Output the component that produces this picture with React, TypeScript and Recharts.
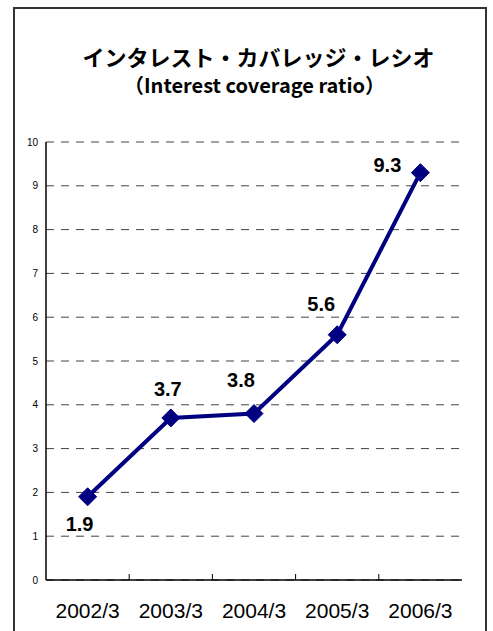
import { CartesianGrid, Line, LineChart, XAxis, YAxis } from 'recharts';

const years = ['2002/3', '2003/3', '2004/3', '2005/3', '2006/3'];
const coverageRatio = [1.9, 3.7, 3.8, 5.6, 9.3];
const yTicks = [0, 1, 2, 3, 4, 5, 6, 7, 8, 9, 10];

const chartData = years.map((year, i) => ({ year, ratio: coverageRatio[i] }));

// where each value label sits relative to its marker
const labelOffsets = [
  [-8, 27],
  [-3, -29],
  [-13, -34],
  [-16, -31],
  [-33, -8],
];

const WIDTH = 493;
const HEIGHT = 631;
const PLOT_LEFT = 46;
const PLOT_RIGHT = 462;
const HALF_BAND = (PLOT_RIGHT - PLOT_LEFT) / years.length / 2;
const NAVY = '#000080';

function YearTick({ x, y, payload, index }: any) {
  return (
    <g>
      {index < years.length - 1 && (
        <line x1={x + HALF_BAND} x2={x + HALF_BAND} y1={y} y2={y - 6} stroke="#000" strokeWidth={1} />
      )}
      <text
        x={x}
        y={y + 30}
        textAnchor="middle"
        dominantBaseline="central"
        fontFamily="'Liberation Sans', Arial, sans-serif"
        fontSize={21}
        fill="#000"
      >
        {payload.value}
      </text>
    </g>
  );
}

function Diamond({ cx, cy, index }: any) {
  const r = 9;
  return (
    <polygon
      key={`d-${index}`}
      points={`${cx},${cy - r} ${cx + r},${cy} ${cx},${cy + r} ${cx - r},${cy}`}
      fill={NAVY}
      stroke={NAVY}
    />
  );
}

function ValueLabel({ x, y, index, value }: any) {
  const [dx, dy] = labelOffsets[index] ?? [0, -20];
  return (
    <text
      x={x + dx}
      y={y + dy}
      textAnchor="middle"
      dominantBaseline="central"
      fontFamily="'Liberation Sans', Arial, sans-serif"
      fontWeight="bold"
      fontSize={20}
      fill="#000"
    >
      {Number(value).toFixed(1)}
    </text>
  );
}

export default function App() {
  return (
    <div style={{ position: 'absolute', left: 0, top: 0, width: WIDTH, height: HEIGHT, overflow: 'hidden', background: '#fff' }}>
      <div
        style={{
          position: 'absolute',
          left: 13,
          top: 7,
          width: 474,
          height: 660,
          border: '2px solid #333',
          boxSizing: 'border-box',
        }}
      />
      <div
        style={{
          position: 'absolute',
          left: 0,
          width: WIDTH,
          top: 40,
          textAlign: 'center',
          fontFamily: "'Noto Sans CJK JP', sans-serif",
          color: '#000',
        }}
      >
        <div style={{ fontSize: 22, fontWeight: 'bold', lineHeight: '32px', paddingLeft: 24 }}>
          インタレスト・カバレッジ・レシオ
        </div>
        <div style={{ fontSize: 20, fontWeight: 'bold', lineHeight: '26px', paddingLeft: 16 }}>
          （Interest coverage ratio）
        </div>
      </div>
      <div style={{ position: 'absolute', left: 0, top: 0 }}>
        <LineChart width={WIDTH} height={HEIGHT} data={chartData} margin={{ top: 142, right: WIDTH - PLOT_RIGHT, left: 0, bottom: 0 }}>
          <CartesianGrid vertical={false} stroke="#444" strokeDasharray="8 7" />
          <XAxis
            dataKey="year"
            height={51}
            padding={{ left: HALF_BAND, right: HALF_BAND }}
            axisLine={{ stroke: '#000', strokeWidth: 1.5 }}
            tickLine={false}
            tickSize={0}
            tickMargin={0}
            interval={0}
            tick={<YearTick />}
          />
          <YAxis
            width={PLOT_LEFT}
            domain={[0, 10]}
            ticks={yTicks}
            interval={0}
            axisLine={{ stroke: '#000', strokeWidth: 1.5 }}
            tickLine={false}
            tickSize={0}
            tickMargin={8}
            tick={{ fill: '#000', fontSize: 10, fontFamily: "'Liberation Sans', Arial, sans-serif" }}
          />
          <YAxis yAxisId="right" orientation="right" width={0} tick={false} tickLine={false} axisLine={{ stroke: '#000', strokeWidth: 1.5 }} />
          <Line
            dataKey="ratio"
            stroke={NAVY}
            strokeWidth={4}
            dot={<Diamond />}
            activeDot={false}
            label={<ValueLabel />}
            isAnimationActive={false}
          />
        </LineChart>
      </div>
    </div>
  );
}
